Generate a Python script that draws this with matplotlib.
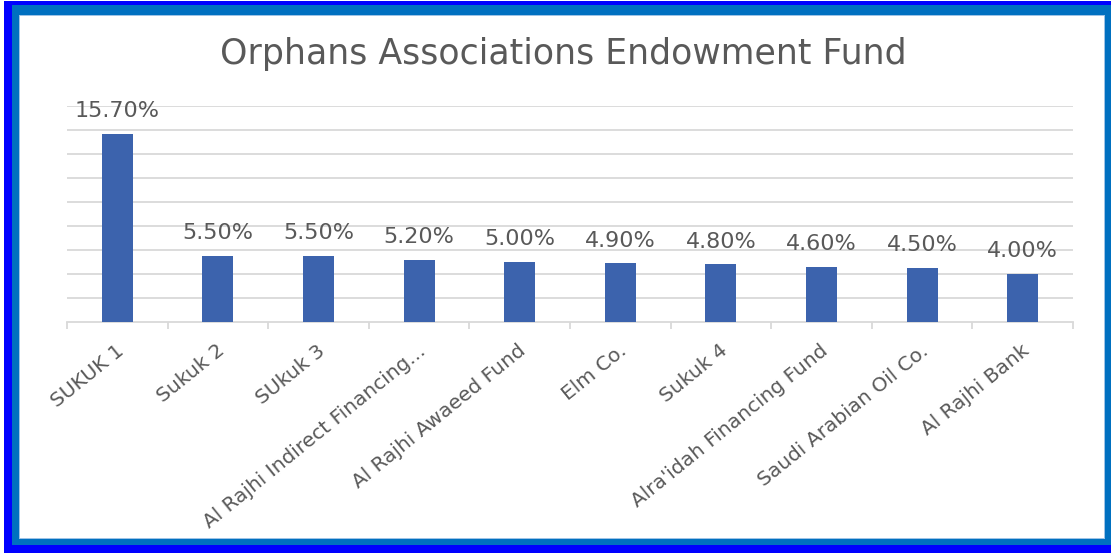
import matplotlib
matplotlib.use('Agg')
import numpy as np
from matplotlib import pyplot as plt
from matplotlib.patches import Rectangle

# datos
categories = ['SUKUK 1', 'Sukuk 2', 'SUkuk 3', 'Al Rajhi Indirect Financing...',
              'Al Rajhi Awaeed Fund', 'Elm Co.', 'Sukuk 4', "Alra'idah Financing Fund",
              'Saudi Arabian Oil Co.', 'Al Rajhi Bank']
values = [15.70, 5.50, 5.50, 5.20, 5.00, 4.90, 4.80, 4.60, 4.50, 4.00]
labels = ['15.70%', '5.50%', '5.50%', '5.20%', '5.00%', '4.90%', '4.80%', '4.60%', '4.50%', '4.00%']
title = 'Orphans Associations Endowment Fund'

W, H = 1111, 554
gris = '#595959'
linea = '#D9D9D9'

fig = plt.figure(figsize=(W/100, H/100), dpi=100)
fig.patch.set_facecolor('white')

# marco (pixeles desde arriba a la izquierda)
def caja(x0, y0, x1, y1, color):
    fig.add_artist(Rectangle((x0/W, 1-y1/H), (x1-x0)/W, (y1-y0)/H,
                             transform=fig.transFigure, facecolor=color,
                             edgecolor='none', zorder=0))

caja(4, 1, W, 553, '#0000FF')
caja(12, 5, W, 545, '#0070C0')
caja(19, 15, 1105, 539, '#9DC3E6')
caja(20, 16, 1104, 538, 'white')

ax = fig.add_axes([67/W, 1-322/H, (1073-67)/W, (322-106)/H])
ax.set_facecolor('none')
ax.set_zorder(2)

x = np.arange(len(categories))
ax.bar(x, values, width=0.31, color='#3C63AD', zorder=3)
for xi, v, t in zip(x, values, labels):
    ax.annotate(t, (xi, v), xytext=(0, 12), textcoords='offset points',
                ha='center', va='baseline', fontsize=16, color=gris)

ax.set_xlim(-0.5, len(categories)-0.5)
ax.set_ylim(0, 18)
ax.set_yticks(np.arange(2, 19, 2))
ax.yaxis.grid(True, color=linea, linewidth=1.3, zorder=0)
ax.tick_params(axis='y', length=0, labelleft=False)

ax.set_xticks(np.arange(-0.5, len(categories)), minor=False)
ax.set_xticklabels([])
ax.set_xticks(x + 0.04, minor=True)
ax.set_xticklabels(categories, minor=True, rotation=39, ha='right',
                   va='center', rotation_mode='anchor', fontsize=14.5, color=gris)
ax.tick_params(axis='x', which='major', length=5, color=linea, width=1.3)
ax.tick_params(axis='x', which='minor', length=0, pad=19)

for s in ['top', 'right', 'left']:
    ax.spines[s].set_visible(False)
ax.spines['bottom'].set_color(linea)
ax.spines['bottom'].set_linewidth(1.3)

fig.text(563/W, 1-54/H, title, ha='center', va='center', fontsize=25, color=gris)

fig.savefig('out.png', dpi=100)
